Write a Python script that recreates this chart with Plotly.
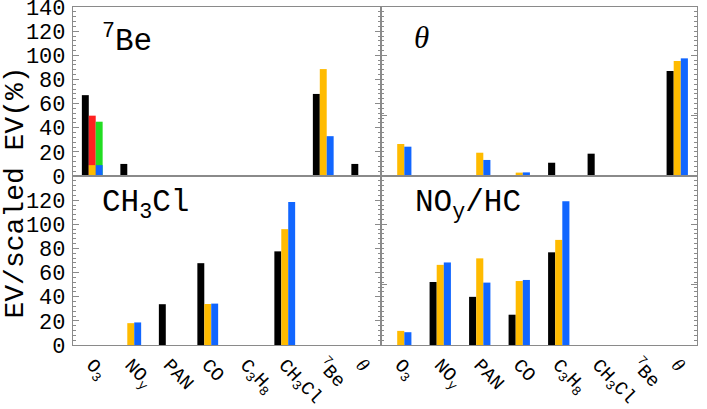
import plotly.graph_objects as go

categories = ["O<sub>3</sub>", "NO<sub>y</sub>", "PAN", "CO", "C<sub>3</sub>H<sub>8</sub>",
              "CH<sub>3</sub>Cl", "<sup>7</sup>Be",
              "<span style='font-family:Liberation Serif'><i>θ</i></span>"]

# panel 1: 7Be
be7_black = [67, 10, None, None, None, None, 68, 10]
be7_yellow = [9, None, None, None, None, None, 88.6, None]
be7_blue = [9, None, None, None, None, None, 33, None]
be7_red = [50, None, None, None, None, None, None, None]
be7_green = [45, None, None, None, None, None, None, None]

# panel 2: theta
th_black = [None, None, None, None, 11, 18.5, 0.8, 87]
th_yellow = [26.5, None, 19.3, 2.8, None, None, None, 95.3]
th_blue = [24.3, None, 13.3, 3, None, None, None, 97.5]

# panel 3: CH3Cl
cl_black = [None, None, 33.8, 67.8, None, 77.6, None, None]
cl_yellow = [None, 18.1, None, 34, None, 96, None, None]
cl_blue = [None, 18.7, None, 34.3, None, 118.6, None, None]

# panel 4: NOy/HC
nh_black = [None, 52.2, 39.9, 25.1, 76.8, None, None, None]
nh_yellow = [11.7, 66.4, 71.8, 53, 87.1, None, None, None]
nh_blue = [10.6, 68.4, 51.7, 53.9, 119.2, None, None, None]

top_ticks = [0, 20, 40, 60, 80, 100, 120, 140]
bot_ticks = [0, 20, 40, 60, 80, 100, 120]

BLACK = "#000000"
YELLOW = "#FFBB00"
BLUE = "#1166FF"
RED = "#FF2020"
GREEN = "#22DD22"
BW = 0.18
OFF = {"k": -0.27, "y": -0.09, "b": 0.09}

xs = list(range(len(categories)))
fig = go.Figure()


def add(vals, color, slot, xa, ya):
    fig.add_trace(go.Bar(x=xs, y=vals, width=BW, offset=OFF[slot],
                         marker=dict(color=color, line=dict(width=0)),
                         xaxis=xa, yaxis=ya, showlegend=False))


add(be7_black, BLACK, "k", "x", "y")
add(be7_red, RED, "y", "x", "y")
add(be7_green, GREEN, "b", "x", "y")
add(be7_yellow, YELLOW, "y", "x", "y")
add(be7_blue, BLUE, "b", "x", "y")

add(th_black, BLACK, "k", "x2", "y2")
add(th_yellow, YELLOW, "y", "x2", "y2")
add(th_blue, BLUE, "b", "x2", "y2")

add(cl_black, BLACK, "k", "x3", "y3")
add(cl_yellow, YELLOW, "y", "x3", "y3")
add(cl_blue, BLUE, "b", "x3", "y3")

add(nh_black, BLACK, "k", "x4", "y4")
add(nh_yellow, YELLOW, "y", "x4", "y4")
add(nh_blue, BLUE, "b", "x4", "y4")

FONT = "Liberation Mono, Courier New, monospace"
LINE = "#8a8a8a"
D = 0.4936

xcommon = dict(range=[-0.5, 7.5], showline=True, mirror=True, linecolor=LINE,
               linewidth=1.2, showgrid=False, zeroline=False, ticks="",
               tickvals=xs, ticktext=categories, tickangle=46, automargin=False,
               ticklabelstandoff=0,
               tickfont=dict(family=FONT, size=19, color="black"))
ycommon = dict(range=[0, 140.05], showline=True, mirror="ticks", linecolor=LINE,
               linewidth=1.2, showgrid=False, zeroline=False, ticks="inside",
               ticklen=6, tickcolor=LINE, tickwidth=1, automargin=False,
               ticklabeloverflow="allow",
               minor=dict(dtick=4, ticks="inside", ticklen=3, tickcolor=LINE),
               tickfont=dict(family=FONT, size=22, color="black"),
               ticklabelstandoff=2)

fig.update_layout(
    width=707, height=409, margin=dict(l=73, r=10, t=7, b=64),
    paper_bgcolor="white", plot_bgcolor="white", barmode="overlay",
    xaxis=dict(xcommon, domain=[0, D], anchor="y", showticklabels=False),
    xaxis2=dict(xcommon, domain=[D, 1], anchor="y2", showticklabels=False),
    xaxis3=dict(xcommon, domain=[0, D], anchor="y3"),
    xaxis4=dict(xcommon, domain=[D, 1], anchor="y4"),
    yaxis=dict(ycommon, domain=[0.5, 1], anchor="x", tickvals=top_ticks),
    yaxis2=dict(ycommon, domain=[0.5, 1], anchor="x2", showticklabels=False),
    yaxis3=dict(ycommon, domain=[0, 0.5], anchor="x3", tickvals=bot_ticks),
    yaxis4=dict(ycommon, domain=[0, 0.5], anchor="x4", showticklabels=False),
)

ann = [
    dict(text="<sup>7</sup>Be", x=0.043, y=0.905, size=31, family=FONT),
    dict(text="<i>θ</i>", x=0.543, y=0.91, size=31, family="Liberation Serif"),
    dict(text="CH<sub>3</sub>Cl", x=0.043, y=0.414, size=31, family=FONT),
    dict(text="NO<sub>y</sub>/HC", x=0.545, y=0.414, size=31, family=FONT),
]
for a in ann:
    fig.add_annotation(text=a["text"], x=a["x"], y=a["y"], xref="paper", yref="paper",
                       xanchor="left", yanchor="middle", showarrow=False,
                       font=dict(family=a["family"], size=a["size"], color="black"))

fig.add_annotation(text="EV/scaled EV(%)", x=-0.092, y=0.45, xref="paper",
                   yref="paper", textangle=-90, showarrow=False,
                   xanchor="center", yanchor="middle",
                   font=dict(family=FONT, size=28, color="black"))

fig.write_html("out.html")
